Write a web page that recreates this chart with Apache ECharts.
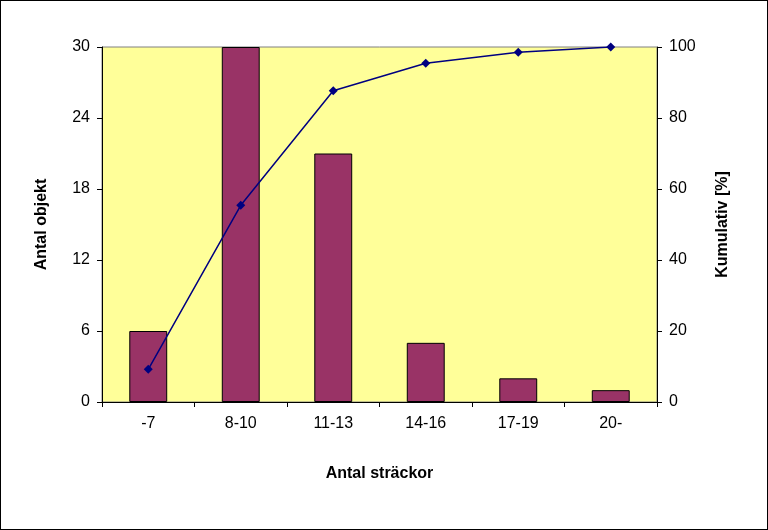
<!DOCTYPE html>
<html><head><meta charset="utf-8">
<script src="https://cdn.jsdelivr.net/npm/echarts@6/dist/echarts.min.js"></script>
<style>html,body{margin:0;padding:0;background:#fff}#c{width:766px;height:528px;border:1px solid #000}</style>
</head><body><div id="c"></div>
<script>
const categories = ['-7','8-10','11-13','14-16','17-19','20-'];
const counts = [6,30,21,5,2,1];
const cumulative = [9.2,55.4,87.7,95.4,98.5,100];
const leftTicks = [0,6,12,18,24,30];
const rightTicks = [0,20,40,60,80,100];
const font = 'Liberation Sans, Arial, sans-serif';
const chart = echarts.init(document.getElementById('c'));
const axisCommon = {
  axisLine:{show:true,lineStyle:{color:'#000'}},
  axisTick:{show:true,inside:false,length:5,lineStyle:{color:'#000'}},
  axisLabel:{color:'#000',fontSize:16,fontFamily:font},
  splitLine:{show:false},
  nameTextStyle:{color:'#000',fontSize:16,fontWeight:'bold',fontFamily:font}
};
chart.setOption({
  animation:false,
  grid:{left:101,right:110,top:46,bottom:127,show:true,backgroundColor:'#ffff99',borderColor:'#808080',borderWidth:1},
  xAxis:{type:'category',data:categories,name:'Antal sträckor',nameLocation:'middle',nameGap:64,
    ...axisCommon,axisTick:{show:true,length:5,alignWithLabel:false,lineStyle:{color:'#000'}},axisLabel:{...axisCommon.axisLabel,margin:14}},
  yAxis:[
    {type:'value',min:0,max:30,interval:6,name:'Antal objekt',nameLocation:'middle',nameGap:52,nameRotate:90,...axisCommon,axisLabel:{...axisCommon.axisLabel,margin:12}},
    {type:'value',min:0,max:100,interval:20,name:'Kumulativ [%]',nameLocation:'middle',nameGap:58,nameRotate:90,...axisCommon,axisLabel:{...axisCommon.axisLabel,margin:12}}
  ],
  series:[
    {type:'bar',data:counts,barWidth:'41%',itemStyle:{color:'#993366',borderColor:'#000',borderWidth:1}},
    {type:'line',yAxisIndex:1,data:cumulative,symbol:'diamond',symbolSize:9,
     lineStyle:{color:'#000080',width:1.5},itemStyle:{color:'#000080'}}
  ]
});
</script></body></html>
